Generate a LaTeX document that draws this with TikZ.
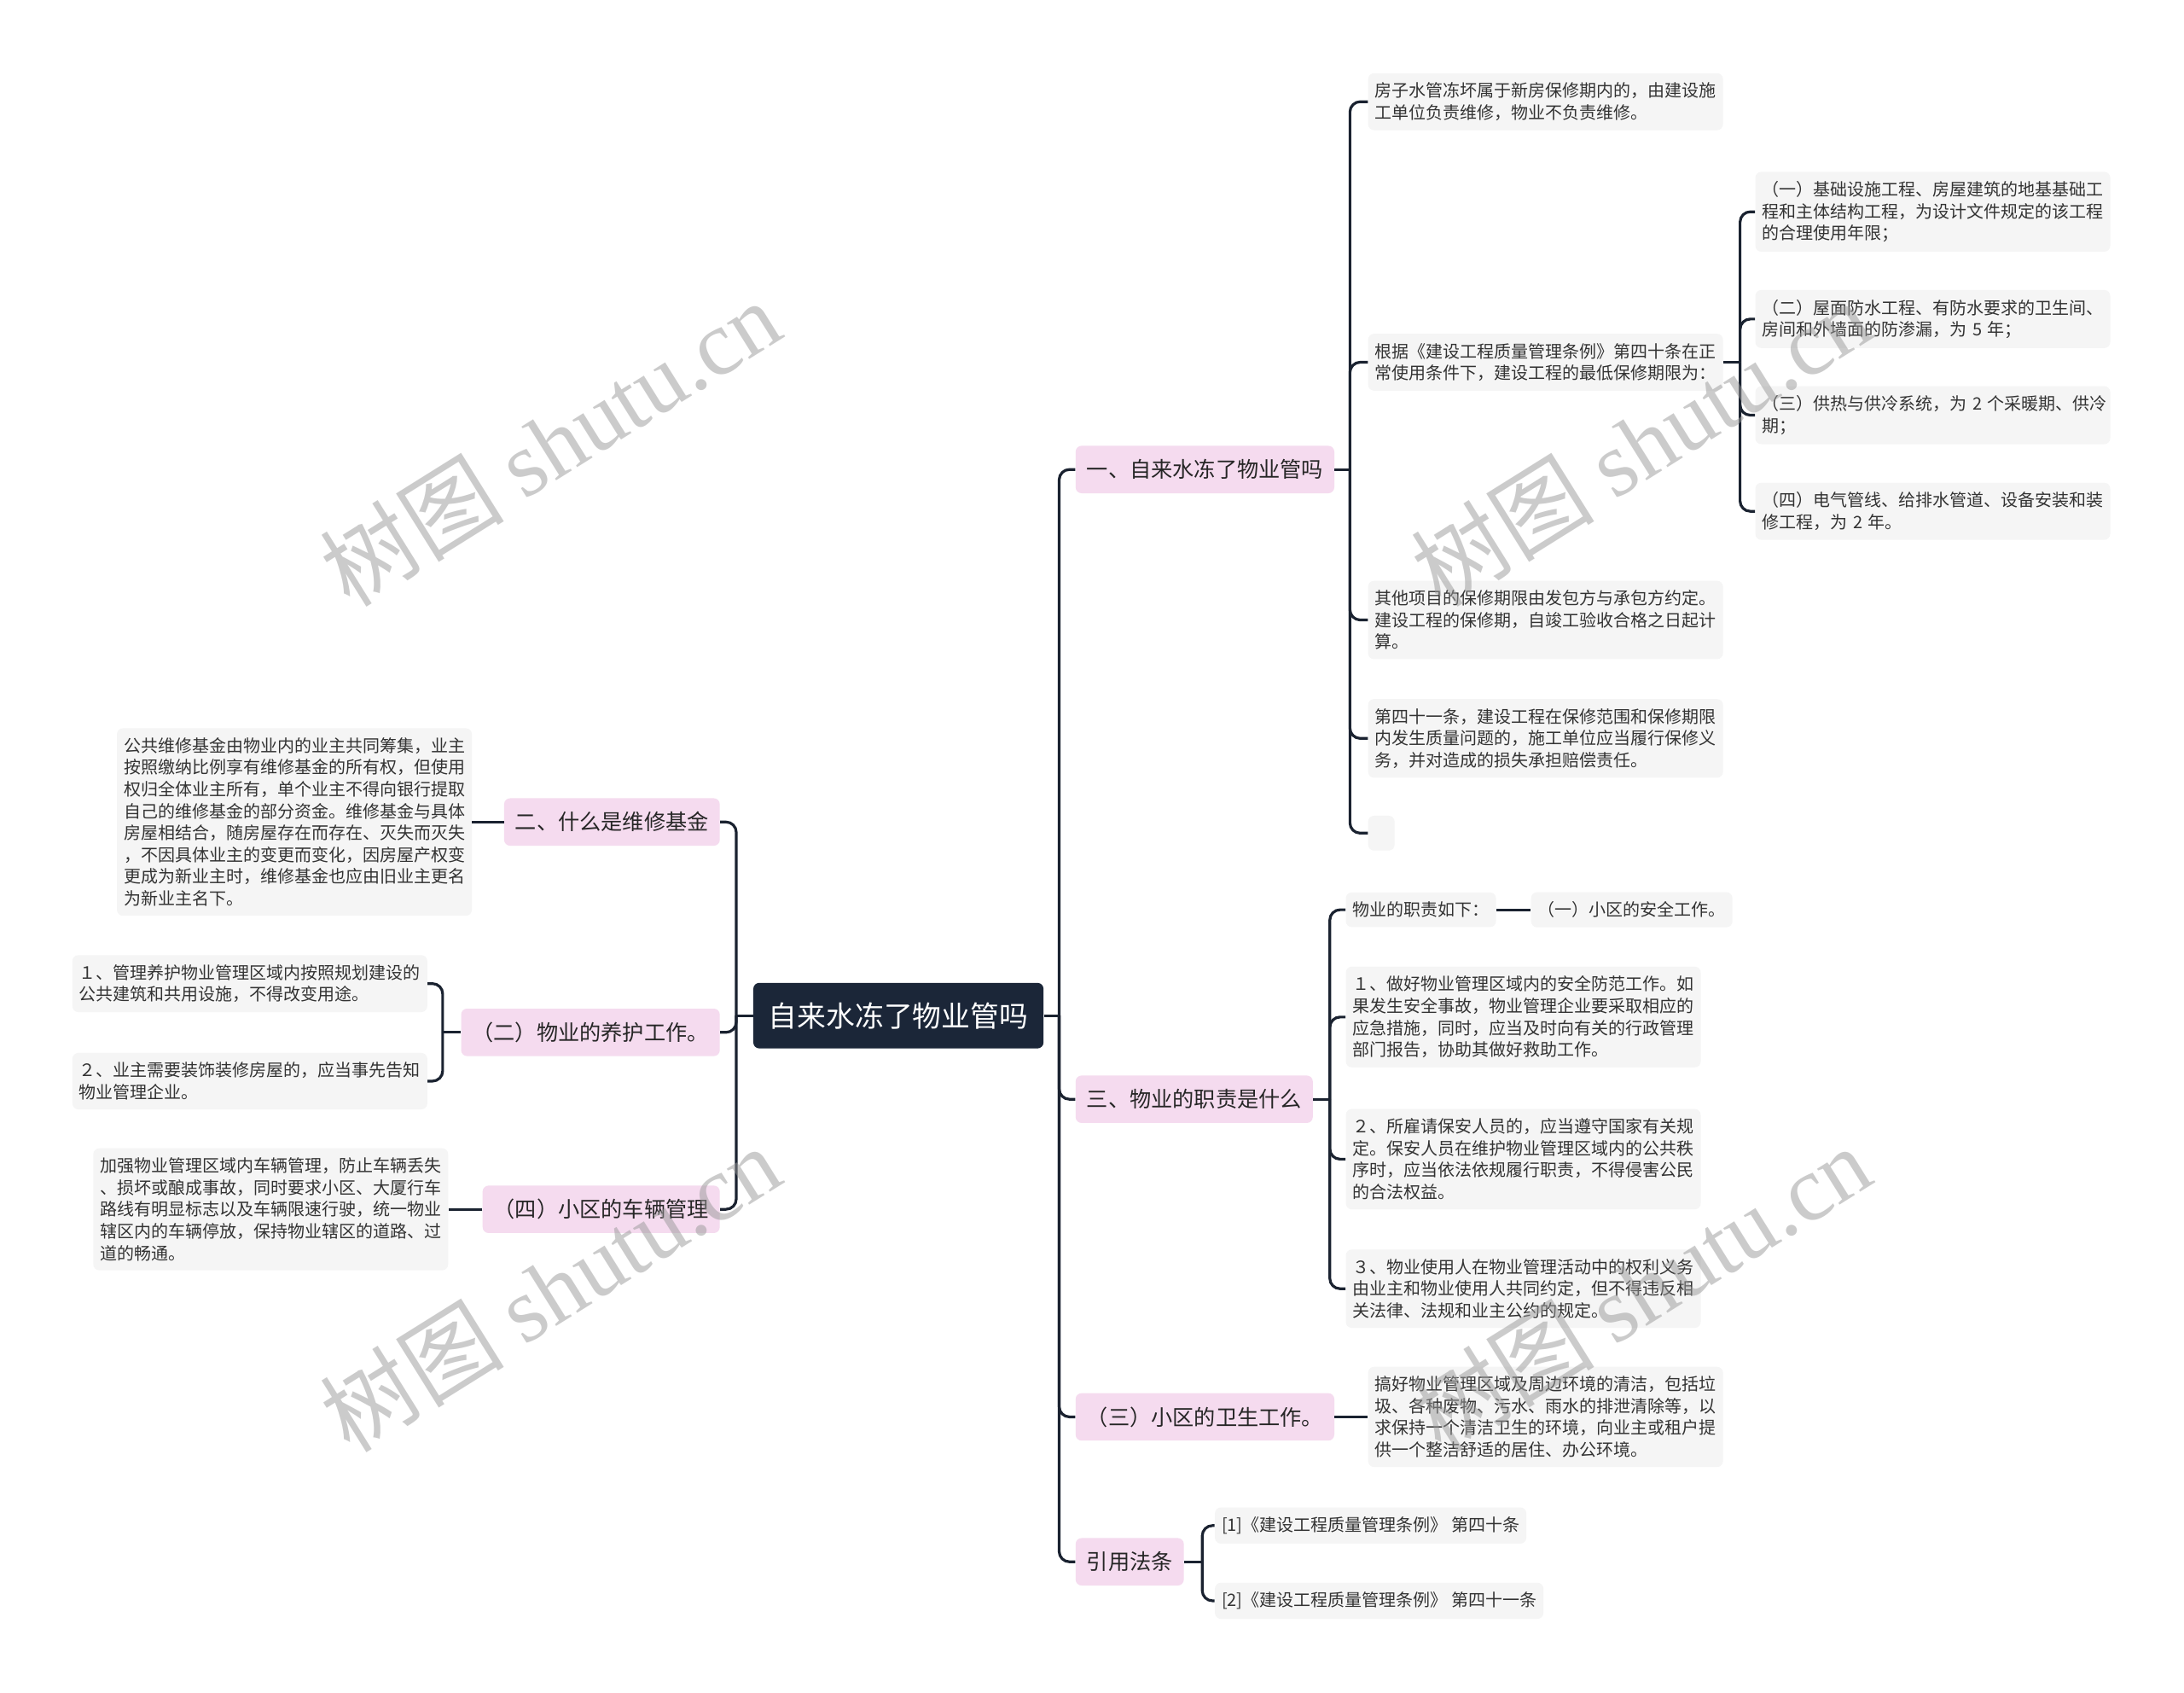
\documentclass[tikz,border=0pt]{standalone}
\usepackage{fontspec}
\setmainfont{Noto Sans CJK SC}
\newfontfamily\wmserif{Liberation Serif}
\usepackage{xcolor}
\usepackage{tikz}
\usetikzlibrary{positioning}

\definecolor{rootblue}{RGB}{27,38,56}
\definecolor{topicpink}{RGB}{245,219,239}
\definecolor{leafgray}{RGB}{245,245,245}
\definecolor{inkgray}{RGB}{51,51,51}
\definecolor{branchblue}{RGB}{26,34,48}

\begin{document}
\begin{tikzpicture}[x=0.8164pt,y=-0.8164pt]
        \tikzstyle{rootbox} = [rectangle, rounded corners=3.5pt, fill=rootblue, text=white, font=\fontsize{16.9}{20}\selectfont, inner xsep=9pt, minimum height=38.4pt]
        \tikzstyle{topic} = [rectangle, rounded corners=3.5pt, fill=topicpink, text=black!85, font=\fontsize{12.6}{15}\selectfont, inner xsep=6.5pt, minimum height=27.8pt]
        \tikzstyle{leaf} = [rectangle, rounded corners=3.5pt, fill=leafgray, text=inkgray, font=\fontsize{10}{12.8}\selectfont, inner xsep=4pt, inner ysep=5.5pt, align=left]
        \tikzstyle{leafpara} = [leaf, text width=200pt]
        \tikzstyle{emptyleaf} = [rectangle, rounded corners=3.5pt, fill=leafgray, minimum width=15.5pt, minimum height=20.4pt, inner sep=0pt]
        \tikzstyle{branch} = [line width=1.6pt, draw=branchblue, rounded corners=6pt]
        \tikzstyle{wmark} = [rotate=32, text=black!40, text opacity=0.5, font=\fontsize{54}{54}\selectfont]

        \fill [white] (0,0) rectangle (1568,1215);
        \useasboundingbox (0,0) rectangle (1568,1215);

        \node (root) [rootbox] at (645,729) {自来水冻了物业管吗};

        % right side
        \node (n1) [topic, anchor=west] at (772,337) {一、自来水冻了物业管吗};
        \node (n3) [topic, anchor=west] at (772,789) {三、物业的职责是什么};
        \node (n5) [topic, anchor=west] at (772,1017) {（三）小区的卫生工作。};
        \node (n6) [topic, anchor=west] at (772,1121) {引用法条};

        \node (c11) [leafpara, anchor=west] at (982,73) {房子水管冻坏属于新房保修期内的，由建设施\\工单位负责维修，物业不负责维修。};
        \node (c12) [leafpara, anchor=west] at (982,260) {根据《建设工程质量管理条例》第四十条在正\\常使用条件下，建设工程的最低保修期限为：};
        \node (c13) [leafpara, anchor=west] at (982,445) {其他项目的保修期限由发包方与承包方约定。\\建设工程的保修期，自竣工验收合格之日起计\\算。};
        \node (c14) [leafpara, anchor=west] at (982,530) {第四十一条，建设工程在保修范围和保修期限\\内发生质量问题的，施工单位应当履行保修义\\务，并对造成的损失承担赔偿责任。};
        \node (c15) [emptyleaf, anchor=west] at (982,598) {};

        \node (g1) [leafpara, anchor=west] at (1260,152) {（一）基础设施工程、房屋建筑的地基基础工\\程和主体结构工程，为设计文件规定的该工程\\的合理使用年限；};
        \node (g2) [leafpara, anchor=west] at (1260,229) {（二）屋面防水工程、有防水要求的卫生间、\\房间和外墙面的防渗漏，为~5~年；};
        \node (g3) [leafpara, anchor=west] at (1260,298) {（三）供热与供冷系统，为~2~个采暖期、供冷\\期；};
        \node (g4) [leafpara, anchor=west] at (1260,367) {（四）电气管线、给排水管道、设备安装和装\\修工程，为~2~年。};

        \node (m1) [leaf, anchor=west] at (966,653) {物业的职责如下：};
        \node (m1a) [leaf, anchor=west] at (1099,653) {（一）小区的安全工作。};
        \node (m2) [leafpara, anchor=west] at (966,730) {１、做好物业管理区域内的安全防范工作。如\\果发生安全事故，物业管理企业要采取相应的\\应急措施，同时，应当及时向有关的行政管理\\部门报告，协助其做好救助工作。};
        \node (m3) [leafpara, anchor=west] at (966,832) {２、所雇请保安人员的，应当遵守国家有关规\\定。保安人员在维护物业管理区域内的公共秩\\序时，应当依法依规履行职责，不得侵害公民\\的合法权益。};
        \node (m4) [leafpara, anchor=west] at (966,925) {３、物业使用人在物业管理活动中的权利义务\\由业主和物业使用人共同约定，但不得违反相\\关法律、法规和业主公约的规定。};

        \node (s1) [leafpara, anchor=west] at (982,1017) {搞好物业管理区域及周边环境的清洁，包括垃\\圾、各种废物、污水、雨水的排泄清除等，以\\求保持一个清洁卫生的环境，向业主或租户提\\供一个整洁舒适的居住、办公环境。};

        \node (r1) [leaf, anchor=west] at (872,1095) {[1]《建设工程质量管理条例》 第四十条};
        \node (r2) [leaf, anchor=west] at (872,1149) {[2]《建设工程质量管理条例》 第四十一条};

        % left side
        \node (n2) [topic, anchor=east] at (517,590) {二、什么是维修基金};
        \node (n4) [topic, anchor=east] at (517,741) {（二）物业的养护工作。};
        \node (n7) [topic, anchor=east] at (517,868) {（四）小区的车辆管理};

        \node (k1) [leafpara, anchor=east] at (339,590) {公共维修基金由物业内的业主共同筹集，业主\\按照缴纳比例享有维修基金的所有权，但使用\\权归全体业主所有，单个业主不得向银行提取\\自己的维修基金的部分资金。维修基金与具体\\房屋相结合，随房屋存在而存在、灭失而灭失\\，不因具体业主的变更而变化，因房屋产权变\\更成为新业主时，维修基金也应由旧业主更名\\为新业主名下。};
        \node (l1) [leafpara, anchor=east] at (307,706) {１、管理养护物业管理区域内按照规划建设的\\公共建筑和共用设施，不得改变用途。};
        \node (l2) [leafpara, anchor=east] at (307,776) {２、业主需要装饰装修房屋的，应当事先告知\\物业管理企业。};
        \node (k2) [leafpara, anchor=east] at (322,868) {加强物业管理区域内车辆管理，防止车辆丢失\\、损坏或酿成事故，同时要求小区、大厦行车\\路线有明显标志以及车辆限速行驶，统一物业\\辖区内的车辆停放，保持物业辖区的道路、过\\道的畅通。};

        % connectors
        \draw [branch] (root.east) -- ++(11,0) coordinate (rt);
        \foreach \t in {n1,n3,n5,n6} \draw [branch] (rt) |- (\t.west);
        \draw [branch] (root.west) -- ++(-12,0) coordinate (lt);
        \foreach \t in {n2,n4,n7} \draw [branch] (lt) |- (\t.east);

        \draw [branch] (n1.east) -- ++(11,0) coordinate (t1);
        \foreach \c in {c11,c12,c13,c14,c15} \draw [branch] (t1) |- (\c.west);
        \draw [branch] (c12.east) -- ++(12,0) coordinate (t12);
        \foreach \c in {g1,g2,g3,g4} \draw [branch] (t12) |- (\c.west);

        \draw [branch] (n3.east) -- ++(12,0) coordinate (t3);
        \foreach \c in {m1,m2,m3,m4} \draw [branch] (t3) |- (\c.west);
        \draw [branch] (m1) -- (m1a);

        \draw [branch] (n5) -- (s1);
        \draw [branch] (n6.east) -- ++(13,0) coordinate (t6);
        \foreach \c in {r1,r2} \draw [branch] (t6) |- (\c.west);

        \draw [branch] (n2) -- (k1);
        \draw [branch] (n4.west) -- ++(-13,0) coordinate (t4);
        \foreach \c in {l1,l2} \draw [branch] (t4) |- (\c.east);
        \draw [branch] (n7) -- (k2);

        % watermarks
        \node (w1) [wmark] at (395,318) {树图 {\wmserif shutu.cn}};
        \node (w2) [wmark] at (1178,318) {树图 {\wmserif shutu.cn}};
        \node (w3) [wmark] at (395,925) {树图 {\wmserif shutu.cn}};
        \node (w4) [wmark] at (1178,925) {树图 {\wmserif shutu.cn}};
\end{tikzpicture}
\end{document}
